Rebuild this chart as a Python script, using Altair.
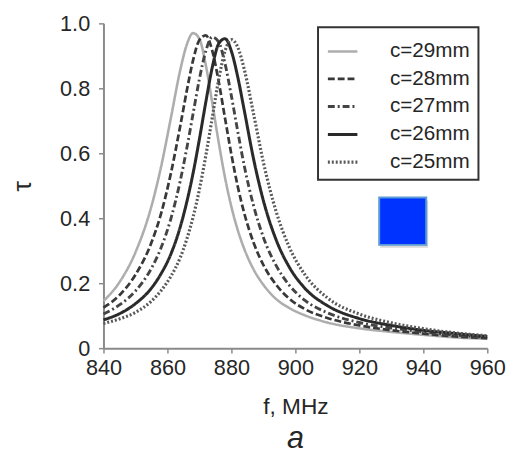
import altair as alt
import pandas as pd

# ---- data ----
freqs = [840, 845, 850, 855, 858, 861, 864, 866, 868, 870, 872, 874, 876, 878,
         880, 882, 884, 887, 890, 894, 898, 903, 910, 920, 930, 940, 950, 960]

tau_29 = [0.145, 0.203, 0.295, 0.437, 0.558, 0.705, 0.856, 0.933, 0.970, 0.952,
          0.871, 0.756, 0.635, 0.525, 0.435, 0.363, 0.306, 0.241, 0.195, 0.151,
          0.124, 0.101, 0.079, 0.061, 0.050, 0.041, 0.033, 0.029]
tau_28 = [0.125, 0.163, 0.226, 0.325, 0.414, 0.535, 0.684, 0.790, 0.886, 0.949,
          0.963, 0.916, 0.822, 0.708, 0.596, 0.497, 0.416, 0.323, 0.256, 0.195,
          0.153, 0.120, 0.093, 0.070, 0.055, 0.045, 0.036, 0.031]
tau_27 = [0.105, 0.133, 0.176, 0.246, 0.309, 0.396, 0.515, 0.613, 0.721, 0.829,
          0.915, 0.958, 0.943, 0.876, 0.776, 0.666, 0.562, 0.436, 0.341, 0.254,
          0.195, 0.147, 0.109, 0.079, 0.062, 0.050, 0.040, 0.033]
tau_26 = [0.087, 0.106, 0.137, 0.185, 0.229, 0.288, 0.373, 0.448, 0.538, 0.644,
          0.758, 0.864, 0.937, 0.953, 0.914, 0.834, 0.733, 0.579, 0.454, 0.333,
          0.251, 0.184, 0.131, 0.091, 0.070, 0.055, 0.045, 0.036]
tau_25 = [0.076, 0.090, 0.110, 0.145, 0.177, 0.220, 0.279, 0.334, 0.403, 0.489,
          0.593, 0.709, 0.826, 0.915, 0.950, 0.926, 0.859, 0.718, 0.572, 0.420,
          0.313, 0.226, 0.155, 0.105, 0.078, 0.060, 0.047, 0.038]

series_labels = ["c=29mm", "c=28mm", "c=27mm", "c=26mm", "c=25mm"]
series_values = [tau_29, tau_28, tau_27, tau_26, tau_25]

x_ticks = [840, 860, 880, 900, 920, 940, 960]
y_ticks = [0, 0.2, 0.4, 0.6, 0.8, 1.0]

# blue square (in data units)
box_f = [926.2, 940.9]
box_tau = [0.464, 0.318]

# ---- styles ----
line_colors = ["#adadad", "#383838", "#444444", "#2a2a2a", "#595959"]
line_dashes = [[1, 0], [7, 3], [7, 3, 2, 3], [1, 0], [2, 2]]
line_widths = [2.6, 3.2, 2.8, 3.6, 2.7]

rows = []
for lab, vals in zip(series_labels, series_values):
    for f, t in zip(freqs, vals):
        rows.append({"f": f, "tau": t, "series": lab})
df = pd.DataFrame(rows)

box_df = pd.DataFrame({"f1": [box_f[0]], "f2": [box_f[1]],
                       "t1": [box_tau[0]], "t2": [box_tau[1]]})

FONT = "Liberation Sans"
AX = "#8a8a8a"
TXT = "#262626"

legend = alt.Legend(
    title=None, orient="none", legendX=218, legendY=4,
    symbolType="stroke", symbolSize=900, rowPadding=1, padding=8,
    labelFont=FONT, labelFontSize=21, labelColor=TXT, labelOffset=31,
    strokeColor="#333333",
)

xscale = alt.Scale(domain=[840, 960], nice=False, zero=False)
yscale = alt.Scale(domain=[0, 1], nice=False)

lines = alt.Chart(df).mark_line(interpolate="monotone").encode(
    x=alt.X("f:Q", scale=xscale,
            axis=alt.Axis(values=x_ticks, format="d", title="f, MHz",
                          labelFont=FONT, labelFontSize=22, labelColor=TXT,
                          tickSize=5, labelPadding=5, domainColor=AX,
                          domainWidth=2, tickColor=AX, tickWidth=1.5,
                          grid=False, titleFont=FONT, titleFontSize=23,
                          titleFontWeight="normal", titleColor=TXT,
                          titlePadding=17, labelFlush=False)),
    y=alt.Y("tau:Q", scale=yscale,
            axis=alt.Axis(values=y_ticks, title="τ",
                          labelExpr="datum.value == 0 ? '0' : format(datum.value, '.1f')",
                          labelFont=FONT, labelFontSize=22, labelColor=TXT,
                          tickSize=5, labelPadding=9, domainColor=AX,
                          domainWidth=2, tickColor=AX, tickWidth=1.5,
                          grid=False, titleFont=FONT, titleFontSize=27,
                          titleFontWeight="normal", titleColor=TXT,
                          titlePadding=24, labelFlush=False)),
    color=alt.Color("series:N", scale=alt.Scale(domain=series_labels, range=line_colors),
                    legend=legend, sort=series_labels),
    strokeDash=alt.StrokeDash("series:N", scale=alt.Scale(domain=series_labels, range=line_dashes),
                              legend=legend, sort=series_labels),
    strokeWidth=alt.StrokeWidth("series:N", scale=alt.Scale(domain=series_labels, range=line_widths),
                                legend=legend, sort=series_labels),
)

shadow = alt.Chart(box_df).mark_rect(fill="#000000", opacity=0.15,
                                     xOffset=1, x2Offset=2, yOffset=3, y2Offset=3).encode(
    x=alt.X("f1:Q", scale=xscale), x2="f2:Q",
    y=alt.Y("t1:Q", scale=yscale), y2="t2:Q",
)
box = alt.Chart(box_df).mark_rect(fill="#0033ff", stroke="#5a9ad6", strokeWidth=2).encode(
    x=alt.X("f1:Q", scale=xscale), x2="f2:Q",
    y=alt.Y("t1:Q", scale=yscale), y2="t2:Q",
)

chart = alt.layer(lines, shadow, box).properties(
    width=390, height=330,
    padding={"left": 97, "top": 12, "right": 20, "bottom": 108},
    autosize=alt.AutoSizeParams(type="none"),
    title=alt.TitleParams("a", orient="bottom", anchor="middle", frame="group",
                          fontSize=31, fontStyle="italic", fontWeight="normal",
                          font=FONT, color=TXT, offset=6),
).configure_view(stroke=None).configure_legend(strokeWidth=2)

chart.save("out.html", embed_options={"renderer": "svg", "actions": False})
